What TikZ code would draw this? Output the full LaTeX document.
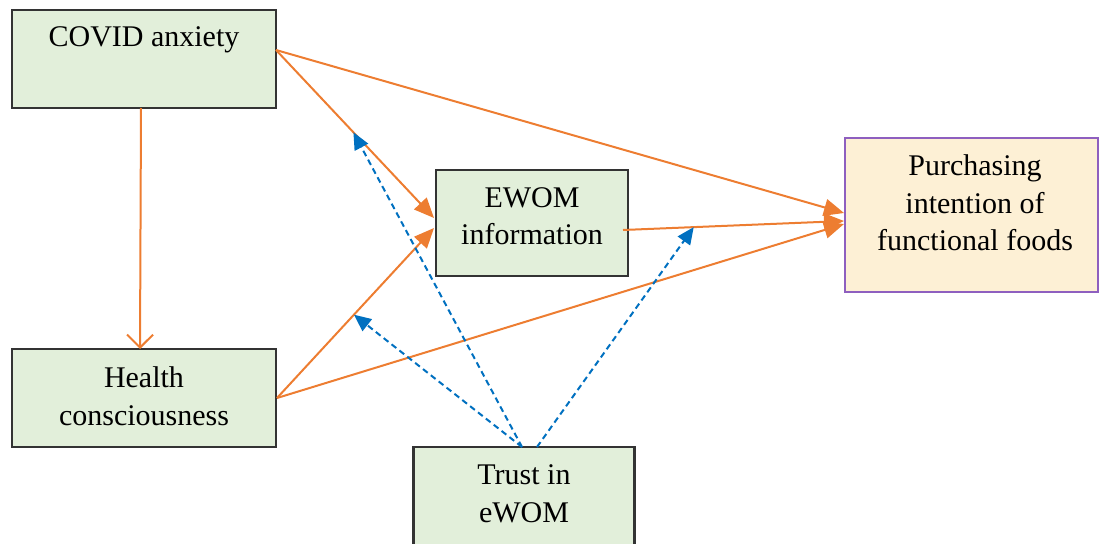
\documentclass[tikz,border=0pt]{standalone}
\usepackage{fontspec}
\setmainfont{Liberation Serif}
\usetikzlibrary{arrows.meta,calc}
\definecolor{boxgreen}{HTML}{E2EFDA}
\definecolor{boxcream}{HTML}{FDF0D5}
\definecolor{boxline}{HTML}{333333}
\definecolor{purp}{HTML}{8E5FBF}
\definecolor{orng}{HTML}{ED7D31}
\definecolor{blu}{HTML}{0070C0}
\tikzset{
  gbox/.style={draw=boxline, line width=2.2pt, fill=boxgreen, rectangle, inner sep=0pt, outer sep=0pt},
  pbox/.style={draw=purp, line width=2pt, fill=boxcream, rectangle, inner sep=0pt, outer sep=0pt},
  lbl/.style={align=center, inner sep=0pt, font=\fontsize{30}{37.5}\selectfont},
  oarr/.style={draw=orng, line width=2pt, -{Triangle[length=20pt,width=17pt]}},
  varr/.style={draw=orng, line width=2pt, -{Straight Barb[length=13pt,width=26pt,line width=2pt]}},
  barr/.style={draw=blu, line width=2pt, dash pattern=on 6pt off 4pt, -{Triangle[length=17pt,width=15pt]}},
}
\begin{document}
\begin{tikzpicture}[x=1pt,y=-1pt]
\useasboundingbox (0,0) rectangle (1099,543);
\clip (0,0) rectangle (1099,543);
% boxes
\node[gbox, minimum width=264pt, minimum height=98pt] (cov) at (144,59) {};
\node[gbox, minimum width=264pt, minimum height=98pt] (hea) at (144,398) {};
\node[gbox, minimum width=192pt, minimum height=106pt] (ewom) at (532,223) {};
\node[pbox, minimum width=253pt, minimum height=154pt] (pur) at (971.5,215) {};
\node[gbox, minimum width=221pt, minimum height=130pt] (tru) at (524,512) {};
% labels
\node[lbl] (covt) at (144,40) {COVID anxiety};
\node[lbl] (heat) at (144,396) {Health\\consciousness};
\node[lbl] (ewomt) at (532,216) {EWOM\\information};
\node[lbl] (purt) at (975,203) {Purchasing\\intention of\\functional foods};
\node[lbl] (trut) at (524,494) {Trust in\\eWOM};
% attachment points
\coordinate (covout) at (276,50);
\coordinate (covbot) at (141,108);
\coordinate (heatop) at (140,349);
\coordinate (heaout) at (277,398);
\coordinate (ewin1) at (434,218);
\coordinate (ewin2) at (434,228);
\coordinate (ewout) at (623,230);
\coordinate (pin1) at (844,213);
\coordinate (pin2) at (844,221);
\coordinate (pin3) at (844,224);
\coordinate (tr1) at (522,447);
\coordinate (tr2) at (537,447);
% orange paths
\draw[oarr] (covout) -- (ewin1);
\draw[oarr] (covout) -- (pin1);
\draw[varr] (covbot) -- (heatop);
\draw[oarr] (heaout) -- (ewin2);
\draw[oarr] (heaout) -- (pin3);
\draw[oarr] (ewout) -- (pin2);
% moderation (dashed blue)
\coordinate (m1) at ($(covout)!0.49!(ewin1)$);
\coordinate (m2) at ($(heaout)!0.49!(ewin2)$);
\coordinate (m3) at ($(ewout)!0.32!(pin2)$);
\draw[barr] (tr1) -- (m1);
\draw[barr] (tr1) -- (m2);
\draw[barr] (tr2) -- (m3);
\end{tikzpicture}
\end{document}
